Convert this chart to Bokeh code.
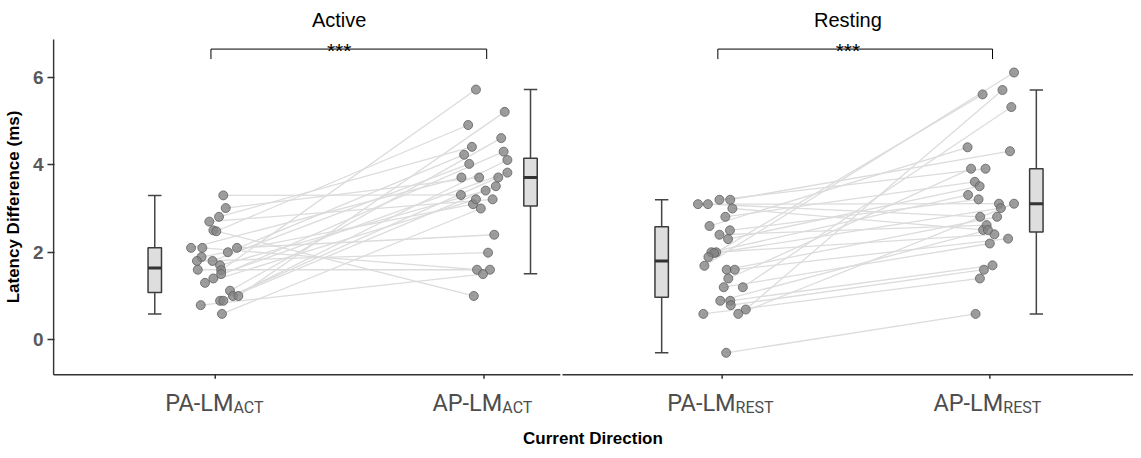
from bokeh.plotting import figure
from bokeh.models import FixedTicker, Range1d
from bokeh.core.properties import value
from bokeh.embed import file_html
from bokeh.resources import INLINE

# ---------------- data ----------------
conditions = ["Active", "Resting"]
categories = ["PA-LM_ACT", "AP-LM_ACT", "PA-LM_REST", "AP-LM_REST"]
tick_main = ["PA-LM", "AP-LM", "PA-LM", "AP-LM"]
tick_sub = ["ACT", "ACT", "REST", "REST"]
y_ticks = [0, 2, 4, 6]
sig_labels = ["***", "***"]

# paired values (same subject at the same index)
act_pa = [3.30, 3.01, 2.81, 2.70, 2.50, 2.48, 2.10, 2.10, 2.10, 2.00, 1.89, 1.80, 1.80,
          1.70, 1.59, 1.50, 1.60, 1.40, 1.30, 1.12, 1.00, 1.00, 0.89, 0.89, 0.79, 0.59]
act_ap = [3.31, 3.71, 4.41, 3.21, 1.00, 4.91, 3.71, 1.60, 2.40, 4.23, 3.10, 1.99, 4.02,
          3.41, 5.72, 3.82, 1.60, 4.30, 3.21, 4.61, 3.51, 5.21, 3.71, 4.11, 1.50, 3.00]
act_pa_jit = [0.030, 0.039, 0.014, -0.022, -0.007, 0.004, -0.090, -0.048, 0.081, 0.047,
              -0.051, -0.068, -0.010, 0.018, 0.022, 0.022, -0.065, -0.007, -0.038, 0.055,
              0.066, 0.086, 0.018, 0.030, -0.054, 0.025]
act_ap_jit = [-0.086, -0.018, -0.045, 0.032, -0.038, -0.059, -0.084, -0.026, 0.038, -0.074,
              -0.041, 0.015, -0.055, 0.006, -0.030, 0.087, 0.022, 0.073, -0.030, 0.064,
              0.044, 0.077, 0.053, 0.087, -0.004, -0.012]

rest_pa = [3.10, 3.10, 3.20, 3.20, 3.00, 2.81, 2.60, 2.50, 2.40, 2.30, 2.00, 2.00, 1.98, 1.89,
           1.69, 1.60, 1.60, 1.40, 1.20, 1.20, 0.89, 0.89, 0.79, 0.69, 0.59, 0.59, -0.30]
rest_ap = [3.11, 2.81, 3.91, 4.31, 2.51, 3.61, 4.40, 3.21, 2.62, 3.51, 3.31, 2.41, 3.01, 5.61,
           6.11, 2.81, 2.31, 3.91, 2.20, 5.32, 2.51, 1.70, 1.60, 5.71, 3.11, 1.40, 0.59]
rest_pa_jit = [-0.090, -0.053, -0.010, 0.030, 0.038, 0.012, -0.047, 0.029, -0.010, 0.022,
               -0.040, -0.022, -0.030, -0.051, -0.066, 0.017, 0.047, 0.023, 0.006, 0.077,
               -0.007, 0.030, 0.032, 0.088, 0.060, -0.070, 0.015]
rest_ap_jit = [0.034, -0.036, -0.016, 0.075, -0.025, -0.056, -0.083, -0.042, -0.012, -0.038,
               -0.081, 0.017, 0.041, -0.027, 0.090, 0.027, 0.068, -0.070, 0.000, 0.080,
               -0.007, 0.010, -0.022, 0.047, 0.090, -0.037, -0.053]

# boxplot statistics per category
box_lo = [0.59, 1.51, -0.30, 0.59]
box_q1 = [1.08, 3.06, 0.97, 2.46]
box_med = [1.64, 3.71, 1.80, 3.11]
box_q3 = [2.10, 4.15, 2.58, 3.91]
box_hi = [3.30, 5.72, 3.20, 5.71]

# ---------------- layout ----------------
cat_x = [1.0, 2.0, 2.886, 3.882]
box_shift = [-0.225, 0.173, -0.225, 0.173]
box_w = 0.05
sub_split = {"ACT": 0.068, "REST": 0.050}
panel_y0, panel_y1 = -0.8, 6.867        # panel (axis) extent in data units
panel_x0, panel_x_gap = 0.3985, 2.288   # y-axis position and facet gap
AX = "#333333"

p = figure(width=1133, height=450, x_range=Range1d(0.3945, 4.4165),
           y_range=Range1d(-1.688, 7.757),
           output_backend="svg", toolbar_location=None,
           min_border_left=43, min_border_right=0, min_border_top=0, min_border_bottom=36)
p.grid.visible = False
p.outline_line_color = None
p.background_fill_color = "white"
p.border_fill_color = "white"

# x axis: only its title is used; line, ticks and labels drawn as glyphs
p.xaxis.ticker = FixedTicker(ticks=[])
p.xaxis.axis_line_color = None
p.xaxis.major_tick_line_color = None
p.xaxis.minor_tick_line_color = None
p.xaxis.axis_label = "Current Direction"
p.xaxis.axis_label_text_font = "Liberation Sans"
p.xaxis.axis_label_text_font_style = "bold"
p.xaxis.axis_label_text_font_size = "17px"
p.xaxis.axis_label_text_color = "black"
p.xaxis.axis_label_standoff = 15

p.yaxis.ticker = FixedTicker(ticks=y_ticks)
p.yaxis.minor_tick_line_color = None
p.yaxis.major_tick_in = 2
p.yaxis.major_tick_out = 5
p.yaxis.axis_line_color = None
p.yaxis.major_tick_line_color = AX
p.yaxis.major_tick_line_width = 1.5
p.yaxis.major_label_text_font = "Liberation Sans"
p.yaxis.major_label_text_font_style = "bold"
p.yaxis.major_label_text_font_size = "19px"
p.yaxis.major_label_text_color = "#595959"
p.yaxis.major_label_standoff = 4
p.yaxis.axis_label = "Latency Difference (ms)"
p.yaxis.axis_label_text_font = "Liberation Sans"
p.yaxis.axis_label_text_font_style = "bold"
p.yaxis.axis_label_text_font_size = "17px"
p.yaxis.axis_label_text_color = "black"
p.yaxis.axis_label_standoff = 7

# panel axis lines
p.segment(x0=[panel_x0], y0=[panel_y0], x1=[panel_x0], y1=[panel_y1], line_color=AX, line_width=1.5)
p.segment(x0=[panel_x0, panel_x_gap + 0.004], y0=[panel_y0, panel_y0],
          x1=[panel_x_gap - 0.004, 4.4165], y1=[panel_y0, panel_y0], line_color=AX, line_width=1.5)
# x tick marks
p.segment(x0=cat_x, y0=[panel_y0] * 4, x1=cat_x, y1=[panel_y0 - 0.095] * 4,
          line_color=AX, line_width=1.5)

# paired lines + points
groups = [
    (act_pa, act_ap, act_pa_jit, act_ap_jit, cat_x[0], cat_x[1]),
    (rest_pa, rest_ap, rest_pa_jit, rest_ap_jit, cat_x[2], cat_x[3]),
]
for pa, ap, jpa, jap, xa, xb in groups:
    x0 = [xa + j for j in jpa]
    x1 = [xb + j for j in jap]
    p.segment(x0=x0, y0=pa, x1=x1, y1=ap, line_color="#dcdcdc", line_width=1.3)
for pa, ap, jpa, jap, xa, xb in groups:
    x0 = [xa + j for j in jpa]
    x1 = [xb + j for j in jap]
    for xs, ys in ((x0, pa), (x1, ap)):
        p.scatter(x=xs, y=ys, size=9, fill_color="#858585", fill_alpha=0.8,
                  line_color="#606060", line_alpha=0.8, line_width=1)

# boxplots
bx = [c + s for c, s in zip(cat_x, box_shift)]
bl = [b - box_w / 2 for b in bx]
brr = [b + box_w / 2 for b in bx]
p.segment(x0=bx, y0=box_q3, x1=bx, y1=box_hi, line_color="#444444", line_width=1.5)
p.segment(x0=bx, y0=box_lo, x1=bx, y1=box_q1, line_color="#444444", line_width=1.5)
p.segment(x0=bl, y0=box_hi, x1=brr, y1=box_hi, line_color="#444444", line_width=1.5)
p.segment(x0=bl, y0=box_lo, x1=brr, y1=box_lo, line_color="#444444", line_width=1.5)
p.vbar(x=bx, width=box_w, bottom=box_q1, top=box_q3, fill_color="#dedede",
       line_color="#3c3c3c", line_width=1.5)
p.segment(x0=bl, y0=box_med, x1=brr, y1=box_med, line_color="#333333", line_width=3)

# significance brackets
br_y_top, br_y_bot = 6.646, 6.418
for k in range(2):
    xa = cat_x[2 * k] - 0.016
    xb = cat_x[2 * k + 1] + 0.01
    p.line(x=[xa, xa, xb, xb], y=[br_y_bot, br_y_top, br_y_top, br_y_bot],
           line_color="black", line_width=1)

# facet titles and stars
title_x = [1.461, 3.354]
p.text(x=title_x, y=[7.317] * 2, text=conditions, text_align="center",
       text_baseline="alphabetic", text_font=value("Liberation Sans"),
       text_font_size="20px", text_color="black")
p.text(x=title_x, y=[6.61] * 2, text=sig_labels, text_align="center",
       text_baseline="alphabetic", text_font=value("Liberation Sans"),
       text_font_size="21px", text_color="black")

# x tick labels with subscripts
xs = [c + sub_split[s] for c, s in zip(cat_x, tick_sub)]
p.text(x=xs, y=[-1.446] * 4, text=tick_main, text_align="right",
       text_baseline="alphabetic", text_font=value("Roboto"),
       text_font_size="23.5px", text_color="#4d4d4d")
p.text(x=xs, y=[-1.54] * 4, text=tick_sub, text_align="left",
       text_baseline="alphabetic", text_font=value("Roboto"),
       text_font_size="16px", text_color="#4d4d4d")

open("out.html", "w").write(file_html(p, INLINE))
